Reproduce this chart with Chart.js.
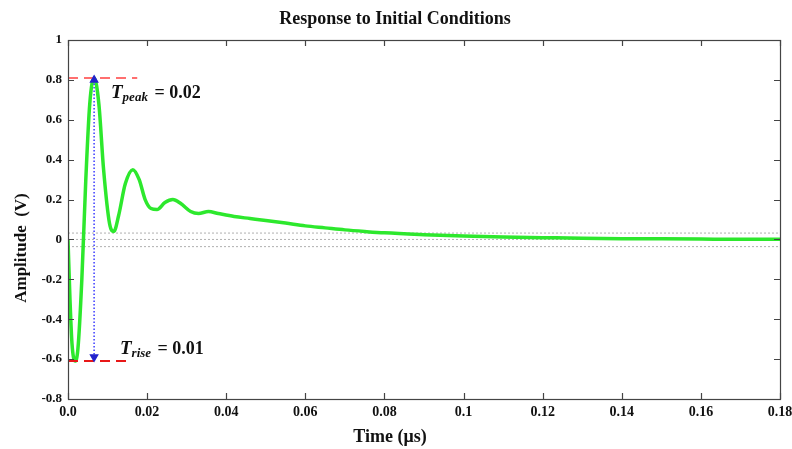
<!DOCTYPE html>
<html>
<head>
<meta charset="utf-8">
<script src="https://cdn.jsdelivr.net/npm/chart.js@4/dist/chart.umd.min.js"></script>
<style>
html,body{margin:0;padding:0;background:#fff;overflow:hidden;}
#wrap{width:792px;height:449px;position:relative;}
</style>
</head>
<body>
<div id="wrap"><canvas id="c" width="792" height="449"></canvas></div>
<script>
// ---- data ----
const timeValues = [0,0.0005,0.001,0.0018,0.0025,0.0035,0.0045,0.0055,0.0066,0.0078,0.009,0.0105,0.0116,0.0128,0.0145,0.0164,0.018,0.0195,0.021,0.0225,0.0245,0.0265,0.0285,0.031,0.033,0.0355,0.038,0.042,0.046,0.05,0.055,0.06,0.065,0.07,0.075,0.08,0.09,0.1,0.11,0.12,0.13,0.14,0.15,0.16,0.17,0.18];
const amplitudeValues = [0,-0.3,-0.52,-0.61,-0.55,-0.2,0.3,0.68,0.81,0.68,0.35,0.08,0.04,0.12,0.28,0.35,0.3,0.2,0.155,0.15,0.185,0.2,0.18,0.14,0.13,0.14,0.13,0.115,0.105,0.095,0.082,0.068,0.058,0.048,0.04,0.033,0.024,0.017,0.012,0.009,0.006,0.004,0.003,0.002,0.001,0.001];
const xTickValues = [0,0.02,0.04,0.06,0.08,0.1,0.12,0.14,0.16,0.18];
const xTickLabels = ['0.0','0.02','0.04','0.06','0.08','0.1','0.12','0.14','0.16','0.18'];
const yTickValues = [1,0.8,0.6,0.4,0.2,0,-0.2,-0.4,-0.6,-0.8];
const yTickLabels = ['1','0.8','0.6','0.4','0.2','0','-0.2','-0.4','-0.6','-0.8'];
const peakTime = 0.0066, peakValue = 0.81;
const minValue = -0.61;
const peakLineEnd = 0.0175, minLineEnd = 0.016;
const bandLevels = [0.032, 0, -0.036];
const titleText = 'Response to Initial Conditions';
const xTitle = 'Time (\u03bcs)';
const yTitle = 'Amplitude  (V)';
const peakLabel = {main:'T', sub:'peak', rest:' = 0.02'};
const riseLabel = {main:'T', sub:'rise', rest:' = 0.01'};

const SERIF = '"Liberation Serif","DejaVu Serif",serif';
const mainData = timeValues.map((t,i)=>({x:t,y:amplitudeValues[i]}));

const datasets = [];
bandLevels.forEach(v=>{
  datasets.push({data:[{x:0,y:v},{x:0.18,y:v}],borderColor:'#b0b0b0',borderWidth:1,borderDash:[2,2],pointRadius:0,fill:false,order:5});
});
datasets.push({data:mainData,borderColor:'#2de82d',borderWidth:3.5,pointRadius:0,fill:false,tension:0.4,cubicInterpolationMode:'monotone',order:2});
datasets.push({data:[{x:0,y:peakValue},{x:peakLineEnd,y:peakValue}],borderColor:'#ff6f6f',borderWidth:2,borderDash:[10,6],pointRadius:0,order:1});
datasets.push({data:[{x:0,y:minValue},{x:minLineEnd,y:minValue}],borderColor:'#e81818',borderWidth:2,borderDash:[10,6],pointRadius:0,order:1});
datasets.push({data:[{x:peakTime,y:peakValue-0.01},{x:peakTime,y:minValue+0.02}],borderColor:'#3a3aff',borderWidth:1.5,borderDash:[1.5,2],
  pointStyle:'triangle',pointRadius:[4,4],pointRotation:[0,180],pointBackgroundColor:'#2222cc',pointBorderColor:'#2222cc',order:0});

const overlay = {
  id:'overlay',
  afterDraw(chart){
    const ctx = chart.ctx, a = chart.chartArea;
    const xs = chart.scales.x, ys = chart.scales.y;
    ctx.save();
    // frame
    ctx.strokeStyle = '#444'; ctx.lineWidth = 1.2; ctx.setLineDash([]);
    ctx.strokeRect(a.left+0.5, a.top+0.5, a.right-a.left, a.bottom-a.top);
    // inward ticks
    ctx.beginPath();
    xTickValues.forEach(v=>{
      const px = Math.round(xs.getPixelForValue(v))+0.5;
      ctx.moveTo(px,a.bottom); ctx.lineTo(px,a.bottom-6);
      ctx.moveTo(px,a.top); ctx.lineTo(px,a.top+6);
    });
    yTickValues.forEach(v=>{
      const py = Math.round(ys.getPixelForValue(v))+0.5;
      ctx.moveTo(a.left,py); ctx.lineTo(a.left+6,py);
      ctx.moveTo(a.right,py); ctx.lineTo(a.right-6,py);
    });
    ctx.stroke();
    // title
    ctx.fillStyle = '#111';
    ctx.font = 'bold 18px '+SERIF;
    ctx.textAlign = 'center'; ctx.textBaseline = 'middle';
    ctx.fillText(titleText, 395, 19);
    // x title
    ctx.font = 'bold 18px '+SERIF;
    ctx.fillText(xTitle, 390, 437);
    // y title
    ctx.save();
    ctx.translate(22, 248);
    ctx.rotate(-Math.PI/2);
    ctx.font = 'bold 17px '+SERIF;
    ctx.fillText(yTitle, 0, 0);
    ctx.restore();
    // annotations
    function label(obj, x, y){
      ctx.textAlign='left'; ctx.textBaseline='alphabetic';
      ctx.font = 'bold italic 19px '+SERIF;
      ctx.fillText(obj.main, x, y);
      let w = ctx.measureText(obj.main).width;
      ctx.font = 'bold italic 13px '+SERIF;
      ctx.fillText(obj.sub, x+w, y+3);
      w += ctx.measureText(obj.sub).width + 2;
      ctx.font = 'bold 18px '+SERIF;
      ctx.fillText(obj.rest, x+w, y);
    }
    label(peakLabel, 111, 98);
    label(riseLabel, 120, 354);
    ctx.restore();
  }
};

new Chart(document.getElementById('c'), {
  type:'line',
  data:{datasets},
  options:{
    responsive:false,
    animation:false,
    layout:{padding:0},
    plugins:{legend:{display:false},title:{display:false},tooltip:{enabled:false}},
    scales:{
      x:{type:'linear',position:'bottom',min:0,max:0.18,
        afterFit(s){s.height=50;s.paddingRight=0;s.paddingLeft=0;},
        afterBuildTicks(s){s.ticks = xTickValues.map(v=>({value:v}));},
        ticks:{autoSkip:false,maxRotation:0,padding:5,color:'#111',font:{family:SERIF,size:14,weight:'bold'},
          callback:(v)=>{const i=xTickValues.findIndex(t=>Math.abs(t-v)<1e-9);return i>=0?xTickLabels[i]:'';}},
        grid:{display:false,drawTicks:false},border:{display:false},
        title:{display:false}
      },
      x2:{type:'linear',position:'top',min:0,max:0.18,afterFit(s){s.height=40;s.paddingRight=0;s.paddingLeft=0;},
        ticks:{display:false},grid:{display:false,drawTicks:false},border:{display:false}},
      y:{type:'linear',position:'left',min:-0.8,max:1,
        afterFit(s){s.width=68;s.paddingTop=0;s.paddingBottom=0;},
        afterBuildTicks(s){s.ticks = yTickValues.map(v=>({value:v}));},
        ticks:{autoSkip:false,padding:6,color:'#111',font:{family:SERIF,size:13,weight:'bold'},
          callback:(v)=>{const i=yTickValues.findIndex(t=>Math.abs(t-v)<1e-9);return i>=0?yTickLabels[i]:'';}},
        grid:{display:false,drawTicks:false},border:{display:false}
      },
      y2:{type:'linear',position:'right',min:-0.8,max:1,afterFit(s){s.width=12;s.paddingTop=0;s.paddingBottom=0;},
        ticks:{display:false},grid:{display:false,drawTicks:false},border:{display:false}}
    }
  },
  plugins:[overlay]
});
</script>
</body>
</html>
